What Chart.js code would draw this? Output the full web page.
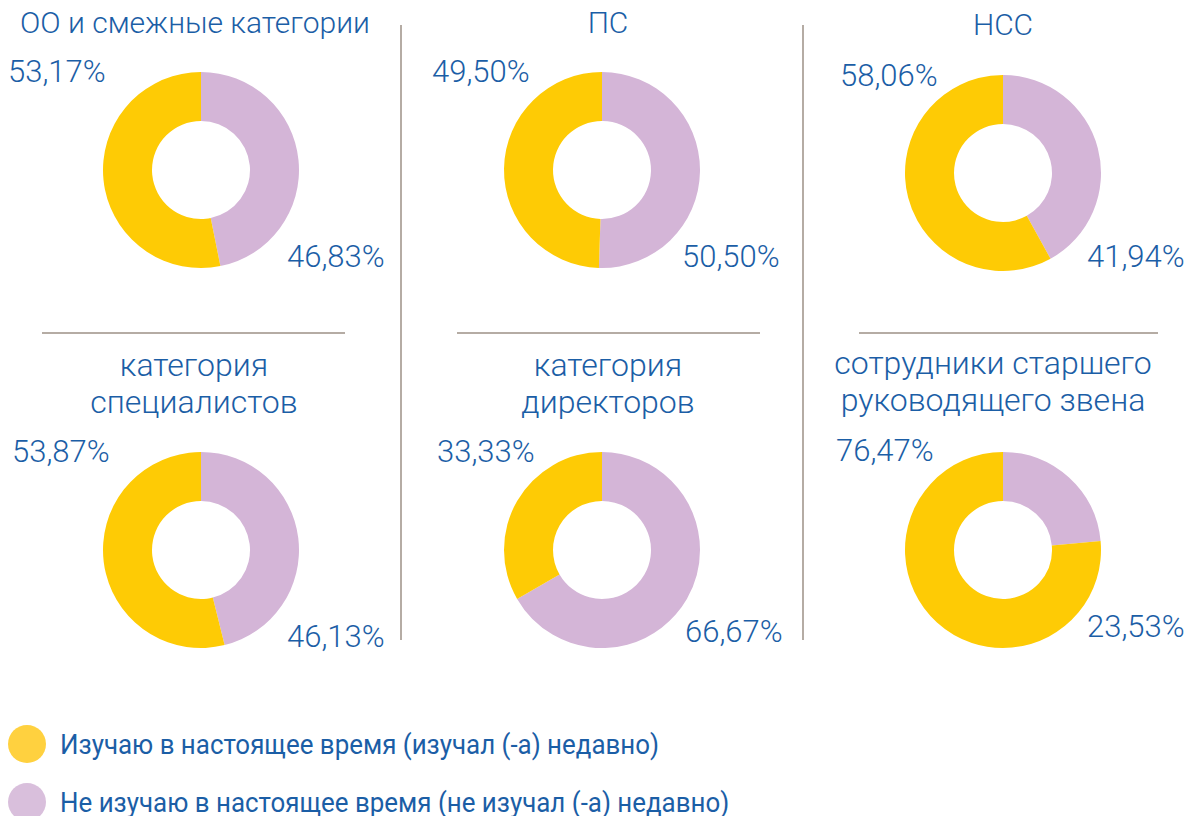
<!DOCTYPE html>
<html><head><meta charset="utf-8">
<script src="https://cdn.jsdelivr.net/npm/chart.js@4"></script>
<style>
html,body{margin:0;padding:0;background:#fff;}
#wrap{position:relative;width:1189px;height:816px;overflow:hidden;font-family:Roboto,"Noto Sans",sans-serif;color:#1b5ea6;}
.t{position:absolute;font-weight:300;font-size:30px;line-height:37px;text-align:center;white-space:nowrap;transform:translateX(-50%);}
.t2{font-size:32px;}
.p{position:absolute;font-weight:300;font-size:31px;line-height:30px;white-space:nowrap;}
.vl{position:absolute;width:2px;background:#b5aca4;}
.hl{position:absolute;height:2px;background:#b5aca4;}
canvas{position:absolute;}
.lg{position:absolute;left:60px;font-size:28px;font-weight:400;white-space:nowrap;transform-origin:left center;transform:scaleX(0.925);line-height:30px;}
.dot{position:absolute;width:38px;height:38px;border-radius:50%;}
</style></head>
<body><div id="wrap"></div>
<script>
const titles = [
  ["ОО и смежные категории"],
  ["ПС"],
  ["НСС"],
  ["категория","специалистов"],
  ["категория","директоров"],
  ["сотрудники старшего","руководящего звена"]
];
const studyNow = [53.17, 49.50, 58.06, 53.87, 33.33, 76.47];
const notStudy = [46.83, 50.50, 41.94, 46.13, 66.67, 23.53];
const legendLabels = ["Изучаю в настоящее время (изучал (-а) недавно)", "Не изучаю в настоящее время (не изучал (-а) недавно)"];
const colorStudy = "#fecb05";
const colorNot = "#d4b5d7";

// layout (positions only)
const centers = [[201,170],[602,170],[1003,173],[201,550],[602,550],[1003,550]];
const titlePos = [[195,4],[608,4],[1003,6],[194,347],[608,347],[993,345]];
const topLabel = [[8,57],[432,57],[840,61],[12,437],[437,437],[836,436]];
const botLabel = [[287,242],[682,242],[1087,242],[287,622],[685,617],[1087,612]];

const wrap = document.getElementById('wrap');
function el(cls, css, txt){const d=document.createElement('div');d.className=cls;Object.assign(d.style,css);if(txt!==undefined)d.textContent=txt;wrap.appendChild(d);return d;}
const fmt = v => v.toFixed(2).replace('.', ',') + '%';

// separators
el('vl',{left:'400px',top:'25px',height:'615px'});
el('vl',{left:'802px',top:'25px',height:'615px'});
el('hl',{left:'42px',top:'332px',width:'303px'});
el('hl',{left:'457px',top:'332px',width:'303px'});
el('hl',{left:'859px',top:'332px',width:'299px'});

for(let i=0;i<6;i++){
  el('t'+(titles[i].length>1?' t2':''),{left:titlePos[i][0]+'px',top:titlePos[i][1]+'px'}).innerHTML = titles[i].join('<br>');
  el('p',{left:topLabel[i][0]+'px',top:topLabel[i][1]+'px'}, fmt(studyNow[i]));
  el('p',{left:botLabel[i][0]+'px',top:botLabel[i][1]+'px'}, fmt(notStudy[i]));
  const c=document.createElement('canvas');
  c.width=200;c.height=200;
  c.style.left=(centers[i][0]-100)+'px';c.style.top=(centers[i][1]-100)+'px';
  c.style.width='200px';c.style.height='200px';
  wrap.appendChild(c);
  new Chart(c,{
    type:'doughnut',
    data:{labels:[legendLabels[1],legendLabels[0]],
      datasets:[{data:[notStudy[i],studyNow[i]],backgroundColor:[colorNot,colorStudy],borderWidth:0}]},
    options:{responsive:false,animation:false,cutout:'50%',
      layout:{padding:2},
      plugins:{legend:{display:false},tooltip:{enabled:false}}}
  });
}
// legend
el('dot',{left:'8px',top:'725px',background:'#ffd13f'});
el('dot',{left:'8px',top:'783px',background:'#d9bfdc'});
el('lg',{top:'730px'}, legendLabels[0]);
el('lg',{top:'788px'}, legendLabels[1]);
</script>
</body></html>
